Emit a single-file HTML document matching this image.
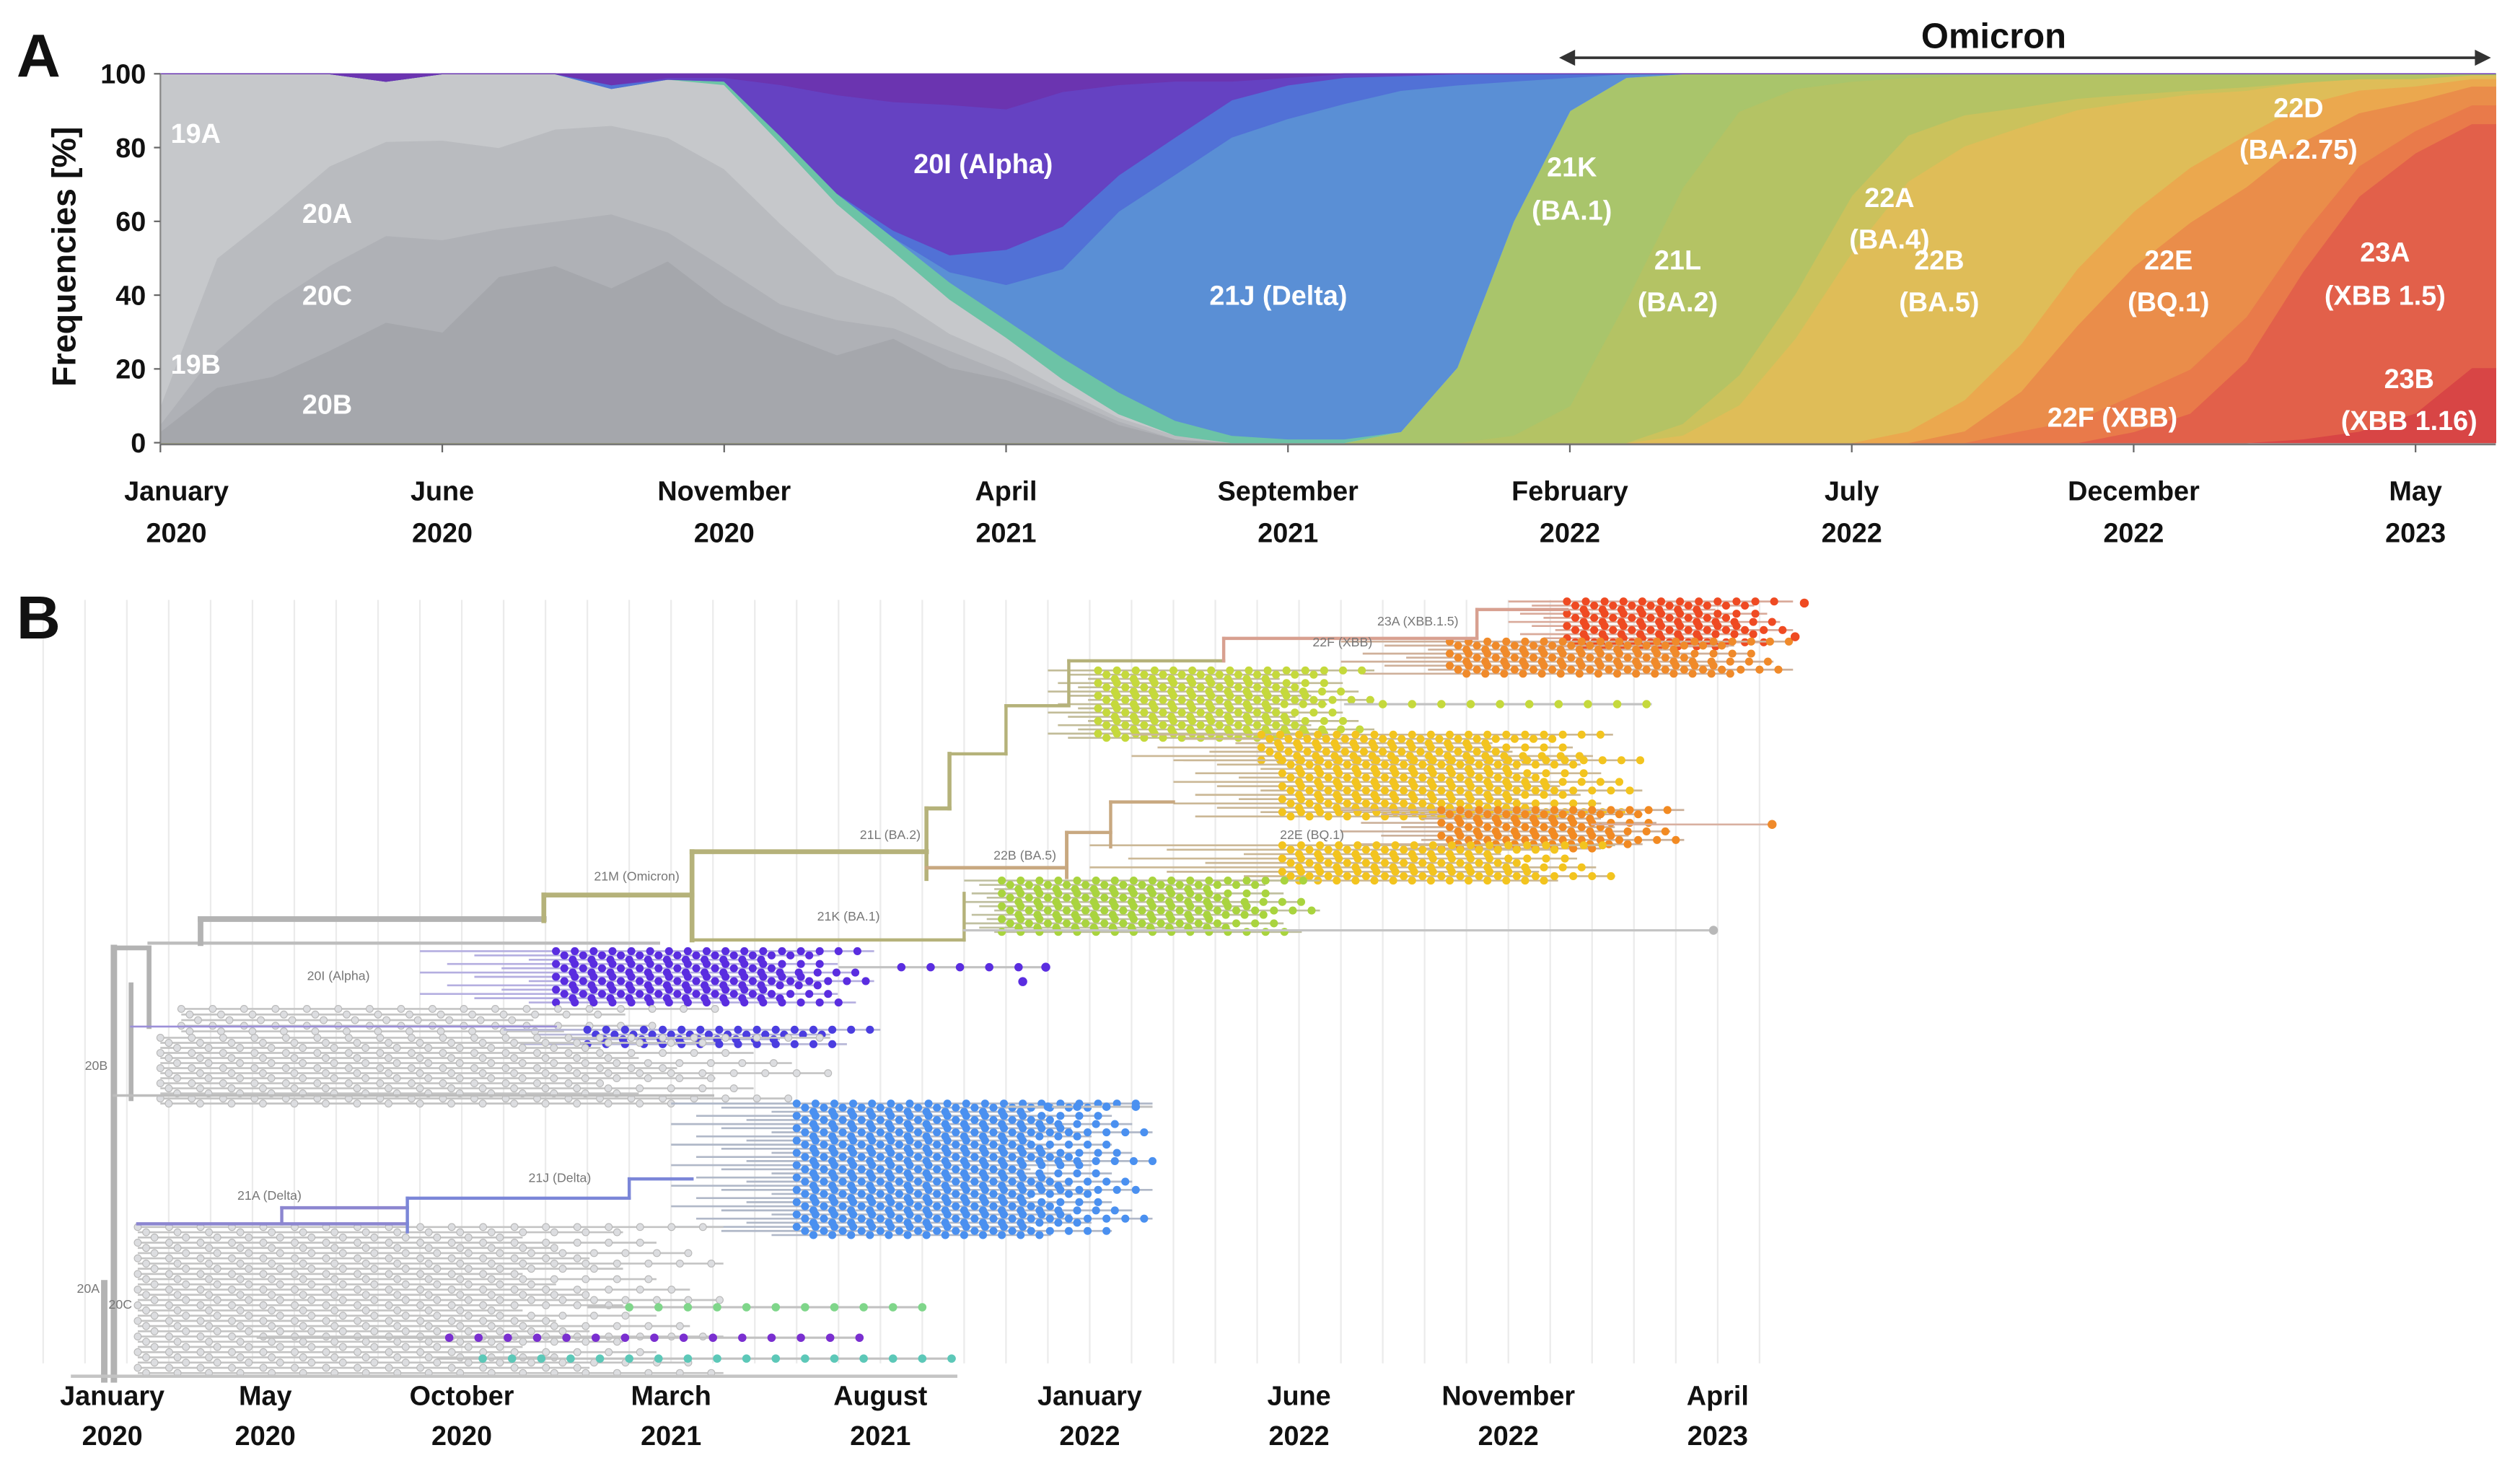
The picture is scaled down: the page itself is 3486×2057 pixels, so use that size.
<!DOCTYPE html>
<html><head><meta charset="utf-8"><style>
html,body{margin:0;padding:0;background:#fff;}
svg{display:block;font-family:"Liberation Sans",sans-serif;}
</style></head><body>
<svg id="fig" width="3486" height="2057" viewBox="0 0 1568 925.2" preserveAspectRatio="none" xmlns="http://www.w3.org/2000/svg">
<g id="panelA"></g>
<g id="panelB"></g>
</svg>
<script>
// ---------- Panel A data (monthly, index 0 = Jan 2020) ----------
const monthsA = Array.from({length:42},(_, i)=>i);
const Z = n => new Array(n).fill(0);
const s23B  = Z(38).concat([1,3,8,20]);
const s23A  = Z(35).concat([3,8,22,45,62,70,65]);
const s22F  = Z(33).concat([3,6,10,12,12,10,8,6,5]);
const s22E  = Z(32).concat([3,10,25,35,40,35,25,14,8,5]);
const s22D  = Z(31).concat([3,8,12,15,15,15,14,10,6,4,2]);
const s22B  = Z(27).concat([2,10,28,50,65,65,55,42,30,20,12,6,3,2,1]);
const s22A  = Z(27).concat([3,8,12,15,12,8,5,3,2,1,1,0,0,0,0]);
const s21L  = Z(24).concat([2,10,38,62,70,55,30,15,10,8,6,5,4,3,2,1,1,0]);
const s21K  = Z(22).concat([3,20,58,80,60,30,10,4,2,1,0.5,0.5,0.5,0.5,0.5,0.5,0.3,0.3,0.3,0.3]);
const s20B  = [3,15,18,25,32,30,45,48,42,50,38,30,25,30,22,18,12,5,1].concat(Z(23));
const s20C  = [2,10,20,23,23,25,13,12,20,8,10,8,10,3,5,2,1,1,0].concat(Z(23));
const s20A  = [5,25,24,27,25,27,22,25,24,26,27,22,13,9,5,4,2,1,1].concat(Z(23));
const s19   = [90,50,38,25,16,18,20,15,10,16,23,22,20,13,10,6,3,1,0].concat(Z(23));
const sTeal = Z(10).concat([1,2,3,4,5,5,6,6,4,2,1,1]).concat(Z(20));
const sDelta= Z(14).concat([3,10,25,50,66,80,86,90,92,75,38,9,1]).concat(Z(15));
const sBlue2= Z(8).concat([1,0,0,0,0,2,5,10,12,10,10,10,9,7,4,3,2,1]).concat(Z(16));
const sAlpha= Z(9).concat([0.5,1,14,28,37,44,40,38,25,15,5,2,1,0.5]).concat(Z(19));
const sDark = [0,0,0,0,2,0,0,0,3,1,1,3,6,8,9,10,5,3,2,2,1].concat(Z(21));
const seriesA = [
 ['23B',s23B,'#d84545'],['23A',s23A,'#e2604a'],['22F',s22F,'#e97a4a'],['22E',s22E,'#ea8d4a'],
 ['22D',s22D,'#eba84e'],['22B',s22B,'#dfbd58'],['22A',s22A,'#cbc25c'],['21L',s21L,'#b4c364'],
 ['21K',s21K,'#a9c56b'],['20B',s20B,'#a5a7ac'],['20C',s20C,'#afb1b6'],['20A',s20A,'#b9bbbf'],
 ['19A',s19,'#c6c8cb'],['teal',sTeal,'#6cc3a6'],['21J',sDelta,'#5a8fd5'],['blue2',sBlue2,'#5171d6'],
 ['20I',sAlpha,'#6542c2'],['dark',sDark,'#6b34b0']];
const yTicksA = [0,20,40,60,80,100];
const xTicksA = [0,5,10,15,20,25,30,35,40];
const xTickLab1 = ['January','June','November','April','September','February','July','December','May'];
const xTickLab2 = ['2020','2020','2020','2021','2021','2022','2022','2022','2023'];

const NS='http://www.w3.org/2000/svg';
function mk(tag,attrs,parent){const e=document.createElementNS(NS,tag);for(const k in attrs)e.setAttribute(k,attrs[k]);parent.appendChild(e);return e;}
const A=document.getElementById('panelA');
const xA=m=>100+35.15*m, yA=v=>276-2.3*v;
const XEND=1556;
const totals=monthsA.map(i=>seriesA.reduce((s,se)=>s+se[1][i],0));
let base=monthsA.map(()=>0);
seriesA.forEach(se=>{
  const top=monthsA.map(i=>base[i]+(totals[i]>0?se[1][i]/totals[i]*100:0));
  let d='';
  monthsA.forEach(i=>{d+=(i?'L':'M')+xA(i).toFixed(1)+','+yA(top[i]).toFixed(1);});
  d+='L'+XEND+','+yA(top[41]).toFixed(1)+'L'+XEND+','+yA(base[41]).toFixed(1);
  for(let i=41;i>=0;i--) d+='L'+xA(i).toFixed(1)+','+yA(base[i]).toFixed(1);
  const p=mk('path',{d:d+'Z',fill:se[2],stroke:se[2],'stroke-width':0.6},A);
  
  
  base=top;
});
mk('line',{x1:100,y1:46,x2:100,y2:277,stroke:'#888','stroke-width':1},A);
mk('line',{x1:100,y1:277,x2:XEND,y2:277,stroke:'#777','stroke-width':1.2},A);
yTicksA.forEach(v=>{
  mk('line',{x1:96,y1:yA(v),x2:100,y2:yA(v),stroke:'#666'},A);
  const t=mk('text',{x:91,y:yA(v)+6,'text-anchor':'end','font-size':17,'font-weight':'bold',fill:'#111'},A);
  t.textContent=v;
  
  
});
xTicksA.forEach((m,i)=>{
  mk('line',{x1:xA(m),y1:277,x2:xA(m),y2:282,stroke:'#666'},A);
  const cx=xA(m)+(i===0?10:0);
  const t=mk('text',{x:cx,y:312,'text-anchor':'middle','font-size':17,'font-weight':'bold',fill:'#111'},A);
  t.textContent=xTickLab1[i];
  
  
  const t2=mk('text',{x:cx,y:338,'text-anchor':'middle','font-size':17,'font-weight':'bold',fill:'#111'},A);
  t2.textContent=xTickLab2[i];
  
  
});
</script>
<script>
(function(){
const A=document.getElementById('panelA');
const NS='http://www.w3.org/2000/svg';
function txt(x,y,s,size,fill,name,extra){const t=document.createElementNS(NS,'text');t.setAttribute('x',x);t.setAttribute('y',y);t.setAttribute('font-size',size);t.setAttribute('font-weight','bold');t.setAttribute('fill',fill);t.setAttribute('text-anchor','middle');if(extra)for(const k in extra)t.setAttribute(k,extra[k]);t.textContent=s;A.appendChild(t);return t;}
txt(24,48,'A',38,'#111','panel-a-letter');
txt(1243,30,'Omicron',22,'#111','omicron-label');
const ar=document.createElementNS(NS,'g');
ar.innerHTML='<line x1="976" y1="36" x2="1548" y2="36" stroke="#333" stroke-width="1.6"/><path d="M972,36 L982,31 L982,41Z" fill="#333"/><path d="M1553,36 L1543,31 L1543,41Z" fill="#333"/>';
A.appendChild(ar);
txt(47,160,'Frequencies [%]',21,'#111','y-axis-title',{transform:'rotate(-90 47 160)'});
const L=[['19A',122,89],['20A',204,139],['20C',204,190],['19B',122,233],['20B',204,258],['20I (Alpha)',613,108],['21J (Delta)',797,190],
['21K',980,110],['(BA.1)',980,137],['21L',1046,168],['(BA.2)',1046,194],['22A',1178,129],['(BA.4)',1178,155],['22B',1209,168],['(BA.5)',1209,194],
['22D',1433,73],['(BA.2.75)',1433,99],['22E',1352,168],['(BQ.1)',1352,194],['23A',1487,163],['(XBB 1.5)',1487,190],['22F (XBB)',1317,266],['23B',1502,242],['(XBB 1.16)',1502,268]];
L.forEach(l=>txt(l[1],l[2],l[0],17,'#fff','area-label'));
})();
</script>
<script>
const gridMonthsB = Array.from({length:42},(_, i)=>i-1);
const xTicksB = [0,4,9,14,19,24,29,34,39];
const xLabB1 = ['January','May','October','March','August','January','June','November','April'];
const xLabB2 = ['2020','2020','2020','2021','2021','2022','2022','2022','2023'];
const branchesB = [
 [0.69,591,0.69,860,'#b3b3b3',4],[0.46,800,0.46,860,'#b3b3b3',4],[-0.3,858,20.8,858,'#c4c4c4',2],
 [1.1,614,1.1,685,'#b3b3b3',3],[0.69,683,15,683,'#bdbdbd',1.6],[0.69,591,1.53,591,'#b3b3b3',3],[1.53,591,1.53,640,'#b3b3b3',3],
 [1.53,588,13.7,588,'#bdbdbd',2],[2.76,573,2.76,588,'#b3b3b3',3.5],[2.76,573,10.96,573,'#b3b3b3',3.5],
 [10.96,558,10.96,574,'#b5b27a',3],[10.96,558,14.5,558,'#b5b27a',3],[14.5,531,14.5,586,'#b5b27a',3],
 [14.5,531,20.1,531,'#b5b27a',3],[14.5,586,21,586,'#b5b27a',2],[20.1,504,20.1,548,'#b5b27a',2.5],
 [20.1,504,20.65,504,'#b5b27a',2.5],[20.65,470,20.65,504,'#b5b27a',2.5],[20.65,470,22,470,'#b5b27a',2],
 [22,440,22,470,'#b5b27a',2],[22,440,23.5,440,'#b5b27a',2],[23.5,412,23.5,440,'#b5b27a',2],[23.5,412,27.2,412,'#b5b27a',2],
 [27.2,398,27.2,412,'#d8a090',2],[27.2,398,33.25,398,'#d8a090',2],[33.25,380,33.25,398,'#d8a090',2],[33.25,380,35.4,380,'#d8a090',2],
 [20.1,541,23.45,541,'#c8a880',2.2],[23.45,519,23.45,547,'#c8a880',2.2],[23.45,519,24.5,519,'#c8a880',2],
 [24.5,500,24.5,528,'#c8a880',2],[24.5,500,26,500,'#c8a880',2],[21,557,21,586,'#b5b27a',2],
 [21,580,38.9,580,'#c4c4c4',1.4],[30.1,439,37.4,439,'#c8c8c8',1.4],[36,514,40.3,514,'#d8b0a0',1.2],
 [1.1,640,11.25,640,'#9b8fd8',1.2],[1.26,763,7.7,763,'#8c86d0',2],[4.7,753,7.7,753,'#8c86d0',2],[4.7,753,4.7,763,'#8c86d0',2],
 [7.7,747,13,747,'#7b86d8',2],[7.7,747,7.7,768,'#7b86d8',2],[13,735,13,747,'#7b86d8',2],[13,735,14.5,735,'#7b86d8',2]
];
const clustersB = [
 ['23a-cluster',34,40.8,375,403,'#ef4a22',35.4,'#d9aa9a'],
 ['22f-cluster',30,40.8,400,420,'#f08a2a',32.6,'#cfb09a'],
 ['ba2-cluster',23,30.8,418,460,'#c5d93c',24.2,'#c2bc98'],
 ['yellow-cluster-1',25,36.5,458,474,'#f3c41e',28.1,'#cbb896'],
 ['yellow-cluster-2',26,37.2,474,509,'#f3c41e',28.6,'#cbb896'],
 ['22e-cluster',30,38.2,505,529,'#f28a22',32.4,'#cbb09a'],
 ['yellow-cluster-3',24,36.55,527,549,'#f3c41e',28.6,'#cbb896'],
 ['21k-cluster',21,29.5,549,581,'#a9d43e',21.9,'#c0c0a0'],
 ['alpha-cluster',8,18.85,593,625,'#5a2de0',11.25,'#b4aee0'],
 ['grey-cluster-1',2.3,15.1,629,643,'#dcdde0',2.3,'#c4c4c4'],
 ['alpha2-cluster',10,19,642,651,'#4b3de0',12,'#b8b8d8'],
 ['grey-cluster-2',1.8,17.8,647,688,'#dcdde0',1.8,'#c4c4c4'],
 ['delta-cluster',14,25.5,688,770,'#4a90f0',17,'#b0b8c8'],
 ['grey-cluster-3',1.26,15.25,765,856,'#dcdde0',1.26,'#c4c4c4']
];
const lineagesB = [
 ['green-lineage',815,12,20,13,'#7fd68a'],['purple-lineage',834,4.1,18.5,8.7,'#7a2fd0'],
 ['teal-lineage',847,8.4,20.8,9.5,'#5cc8b8'],['alpha-tail',603,18,22.95,19.5,'#5a2de0'],
 ['delta-tail',690,22,25.5,23,'#4a90f0'],['ba2-tail',439,30.1,37.4,31,'#c5d93c']
];
const xB=m=>53+26.1*m;
const B=document.getElementById('panelB');
gridMonthsB.forEach(m=>{
  const l=mk('line',{x1:xB(m),y1:374,x2:xB(m),y2:850,stroke:'#ebebeb','stroke-width':1},B);
  
  
});
clustersB.forEach(c=>{
  const g=mk('g',{},B);
  
  
  const grey=c[5]==='#dcdde0';
  const rows=Math.max(2,Math.round((c[4]-c[3])/(grey?3.2:2.6)));
  for(let i=0;i<=rows;i++){
    const y=c[3]+(c[4]-c[3])*i/rows;
    const st=c[1]+((i*7)%5)/5*(c[6]-c[1]);
    const en=c[2]-((i*3)%7)/7*(c[2]-c[6])*0.4;
    mk('line',{x1:xB(st),y1:y,x2:xB(en),y2:y,stroke:c[7],'stroke-width':1.2},g);
  }
  for(let i=0;i<=rows;i++){
    const y=c[3]+(c[4]-c[3])*i/rows;
    const en=c[2]-((i*3)%7)/7*(c[2]-c[6])*0.4;
    for(let m=c[6]+((i%3)*0.2);m<=en;m+=(grey?0.75:0.45)){
      mk('circle',{cx:xB(m),cy:y,r:grey?2.2:2.5,fill:c[5],stroke:grey?'#b8b8b8':'none','stroke-width':0.5},g);
    }
  }
});
branchesB.forEach(b=>{
  const l=mk('line',{x1:xB(b[0]),y1:b[1],x2:xB(b[2]),y2:b[3],stroke:b[4],'stroke-width':b[5],'stroke-linecap':'square'},B);
  
  
});
lineagesB.forEach(L=>{
  const g=mk('g',{},B);
  
  
  mk('line',{x1:xB(L[2]),y1:L[1],x2:xB(L[3]),y2:L[1],stroke:'#c2c2c2','stroke-width':1.4},g);
  for(let m=L[4];m<=L[3];m+=0.7) mk('circle',{cx:xB(m),cy:L[1],r:2.6,fill:L[5]},g);
});
[[38.9,580,'#b8b8b8'],[40.3,514,'#f08a2a'],[41.07,376,'#ef4a22'],[40.85,397,'#ef4a22'],[22.95,603,'#5a2de0'],[22.4,612,'#5a2de0']].forEach(d=>{
  const c=mk('circle',{cx:xB(d[0]),cy:d[1],r:2.8,fill:d[2]},B);
  
  
});
[['23A (XBB.1.5)',884,390],['22F (XBB)',837,403],['21L (BA.2)',555,523],['22B (BA.5)',639,536],['22E (BQ.1)',818,523],
 ['21K (BA.1)',529,574],['21M (Omicron)',397,549],['20I (Alpha)',211,611],['21A (Delta)',168,748],['21J (Delta)',349,737],
 ['20B',60,667],['20A',55,806],['20C',75,816]].forEach(l=>{
  const t=mk('text',{x:l[1],y:l[2],'text-anchor':'middle','font-size':8,fill:'#777'},B);
  t.textContent=l[0];
  
  
});
const lb=mk('text',{x:24,y:398,'text-anchor':'middle','font-size':38,'font-weight':'bold',fill:'#111'},B);
lb.textContent='B';


xTicksB.forEach((m,i)=>{
  const cx=xB(m)+(i===0?17:(i===1?8:0));
  const t=mk('text',{x:cx,y:876,'text-anchor':'middle','font-size':17,'font-weight':'bold',fill:'#111'},B);
  t.textContent=xLabB1[i];
  
  
  const t2=mk('text',{x:cx,y:901,'text-anchor':'middle','font-size':17,'font-weight':'bold',fill:'#111'},B);
  t2.textContent=xLabB2[i];
  
  
});
</script>
</body></html>
